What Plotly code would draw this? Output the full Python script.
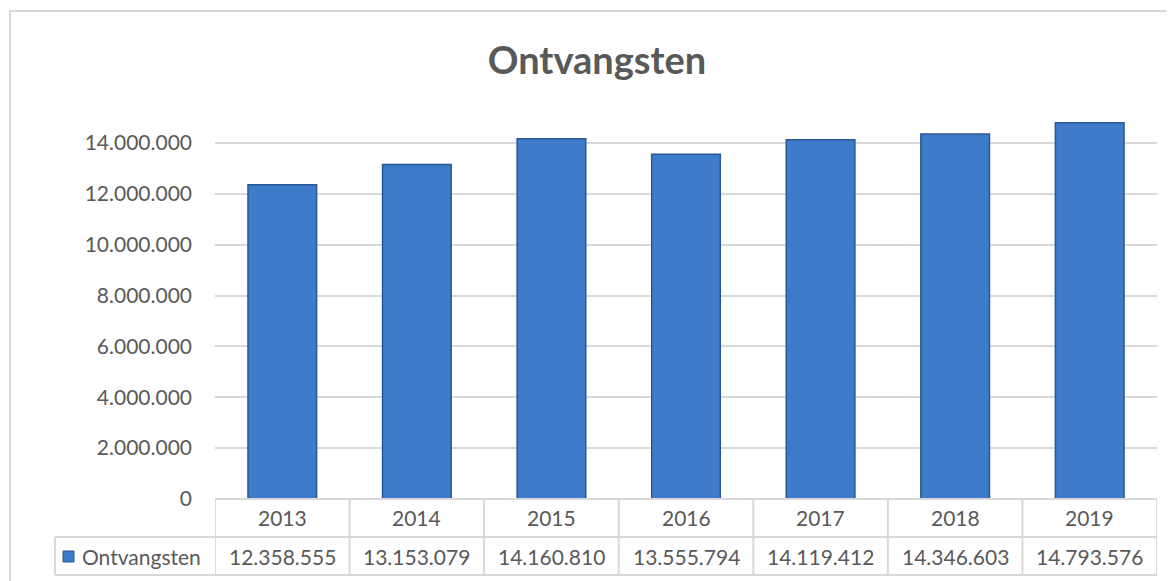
import plotly.graph_objects as go

years = ["2013", "2014", "2015", "2016", "2017", "2018", "2019"]
ontvangsten = [12358555, 13153079, 14160810, 13555794, 14119412, 14346603, 14793576]
y_ticks = [0, 2000000, 4000000, 6000000, 8000000, 10000000, 12000000, 14000000]
series_name = "Ontvangsten"


def nl(v):
    # Dutch thousands separator
    return f"{v:,}".replace(",", ".")


OFF = 8  # page body margin of the html page
W, H = 1174 - OFF, 581 - OFF
L, R, T, B = 215 - OFF, 1157 - OFF, 92 - OFF, 499 - OFF  # plot area in pixels


def px(x):
    return (x - OFF - L) / (R - L)


def py(y):
    return (B - (y - OFF)) / (B - T)


grey = "#595959"
line = "#d9d9d9"
font = "Lato"
fs = 21

fig = go.Figure()
fig.add_trace(go.Bar(
    x=list(range(len(years))), y=ontvangsten, name=series_name, width=0.51,
    marker=dict(color="#3e7bcb", line=dict(color="#2a5794", width=1.5)),
    showlegend=False,
))

shapes = []
annotations = []

# outer chart frame
shapes.append(dict(type="rect", xref="paper", yref="paper",
                   x0=px(10), x1=px(1190), y0=py(600), y1=py(11),
                   line=dict(color=line, width=2), layer="below"))

# data table lines
row1, row2, row3 = 499, 537, 575
for yy in (row1, row2, row3):
    x0 = 215 if yy == row1 else 55
    shapes.append(dict(type="line", xref="paper", yref="paper",
                       x0=px(x0), x1=px(1157), y0=py(yy), y1=py(yy),
                       line=dict(color=line, width=2)))
for i in range(len(years) + 1):
    shapes.append(dict(type="line", xref="x", yref="paper",
                       x0=i - 0.5, x1=i - 0.5, y0=py(row1), y1=py(row3),
                       line=dict(color=line, width=2)))
shapes.append(dict(type="line", xref="paper", yref="paper",
                   x0=px(55), x1=px(55), y0=py(row2), y1=py(row3),
                   line=dict(color=line, width=2)))

# legend key
shapes.append(dict(type="rect", xref="paper", yref="paper",
                   x0=px(63), x1=px(74), y0=py(562), y1=py(551),
                   fillcolor="#3e7bcb", line=dict(color="#2a5794", width=1)))

for i, (yr, v) in enumerate(zip(years, ontvangsten)):
    annotations.append(dict(x=i, y=py((row1 + row2) / 2), xref="x", yref="paper",
                            text=yr, showarrow=False, yanchor="middle",
                            font=dict(size=fs, color=grey, family=font)))
    annotations.append(dict(x=i, y=py((row2 + row3) / 2), xref="x", yref="paper",
                            text=nl(v), showarrow=False, yanchor="middle",
                            font=dict(size=fs, color=grey, family=font)))

annotations.append(dict(x=px(82), y=py((row2 + row3) / 2), xref="paper", yref="paper",
                        xanchor="left", yanchor="middle", text=series_name,
                        showarrow=False, xshift=-2,
                        font=dict(size=fs, color=grey, family=font)))

fig.update_layout(
    width=W, height=H,
    margin=dict(l=L, r=W - R, t=T, b=H - B, pad=0),
    paper_bgcolor="white", plot_bgcolor="white",
    font=dict(family=font, color=grey, size=fs),
    title=dict(text="<b>Ontvangsten</b>", x=(597 - OFF) / W, xanchor="center",
               xref="container",
               y=1 - (61 - OFF) / H, yanchor="middle",
               font=dict(size=38, color=grey, family=font)),
    xaxis=dict(type="linear", range=[-0.5, len(years) - 0.5], showticklabels=False,
               showgrid=False, zeroline=False, showline=False, ticks=""),
    yaxis=dict(range=[0, 16000000], tickvals=y_ticks,
               ticktext=[nl(t) for t in y_ticks],
               showgrid=True, gridcolor=line, gridwidth=2,
               zeroline=False, showline=False, ticks="", ticklabelstandoff=22,
               tickfont=dict(size=fs, color=grey, family=font)),
    shapes=shapes, annotations=annotations,
)

fig.write_html("out.html")
